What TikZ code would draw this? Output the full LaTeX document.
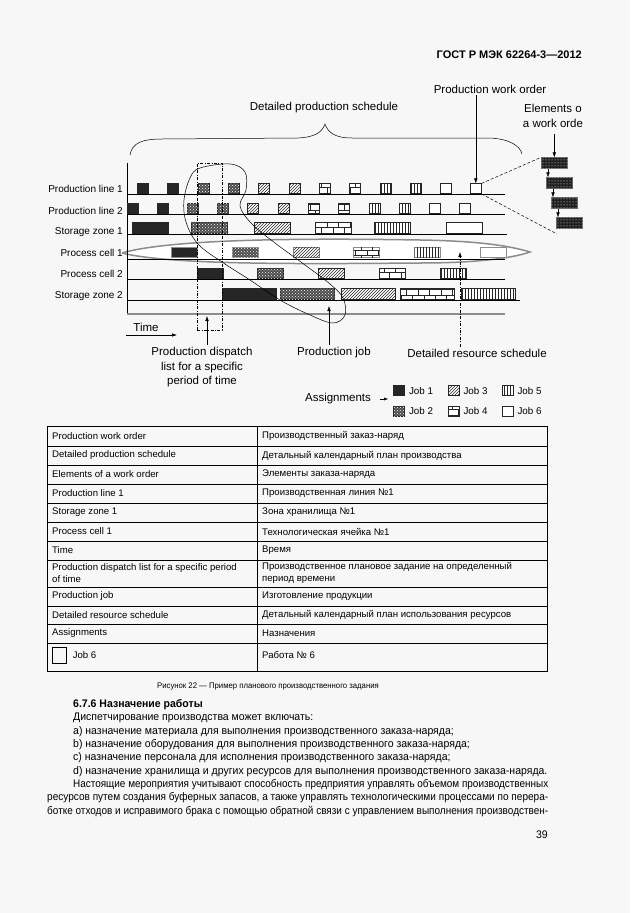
\documentclass[tikz,border=0pt]{standalone}
\usepackage{graphicx}
\usepackage{fontspec}
\setmainfont{Liberation Sans}
\newfontfamily\narrowfont[FakeStretch=0.955]{Liberation Sans}
\usetikzlibrary{arrows.meta,patterns,positioning,calc}

\tikzset{
  bar/.style={draw=black!85, line width=0.6pt, inner sep=0pt, anchor=south west, minimum height=10pt},
  job1/.style={fill=black!85},
  job2/.style={fill=black!70, postaction={pattern=crosshatch dots, pattern color=white}},
  job3/.style={fill=white, postaction={pattern=north east lines, pattern color=black!85}},
  job4/.style={fill=white, postaction={pattern=bricks, pattern color=black!85}},
  job5/.style={fill=white, postaction={pattern=vertical lines, pattern color=black!85}},
  job6/.style={fill=white},
  elem/.style={draw=black!60, line width=0.6pt, inner sep=0pt, anchor=south west,
    minimum width=26pt, minimum height=11pt, fill=black!88, postaction={pattern=dots, pattern color=white}},
  cell/.style={draw=black!45, line width=1.3pt},
  lbl/.style={font=\fontsize{10}{12}\selectfont, anchor=east, inner sep=0pt},
  note/.style={font=\fontsize{11.5}{14.5}\selectfont, align=center, inner sep=0pt},
  leg/.style={font=\fontsize{9.8}{12}\selectfont, inner sep=0pt},
  tbl/.style={font=\fontsize{9.6}{11.5}\selectfont, anchor=west, inner sep=0pt},
  body/.style={font=\narrowfont\fontsize{11}{13}\selectfont, anchor=west, inner sep=0pt},
  tip/.style={-{Latex[length=5pt,width=3.5pt]}},
  dashdot/.style={dash pattern=on 3pt off 1.5pt on 0.8pt off 1.5pt}
}
\newcommand\jline[2]{\resizebox{#1}{\height}{#2}}

\begin{document}
\begin{tikzpicture}[x=1pt,y=-1pt]
  \fill[black!3] (0,0) rectangle (630,913);
  \useasboundingbox (0,0) rectangle (630,913);

  \node[font=\bfseries\fontsize{11}{13}\selectfont, anchor=east, inner sep=0pt] (hdr) at (582,55) {ГОСТ Р МЭК 62264-3—2012};

  % process cell 1 lens
  \draw[black!45, line width=1.5pt, fill=white]
    (122,253) .. controls (170,239) and (300,238) .. (420,240)
    .. controls (480,241) and (510,246) .. (530,252)
    .. controls (510,259) and (470,263) .. (420,263)
    .. controls (300,264) and (170,265) .. (122,253);

  % axis and rows
  \draw[line width=0.6pt] (127,163) -- (127,315);
  \foreach \yy/\xe in {194/505,214/505,234/507,259/505,279/505,300/520}
    \draw[line width=0.7pt] (127,\yy) -- (\xe,\yy);
  \draw[black!45, line width=1.4pt] (127,314) -- (505,314);

  \foreach \yy/\t [count=\i] in {189/Production line 1,211/Production line 2,232/Storage zone 1,
    253/Process cell 1,274/Process cell 2,296/Storage zone 2}
    \node[lbl] (row-\i) at (123,\yy) {\t};

  \foreach \x/\j [count=\i] in {137/1,167/1,198/2,228/2,258/3,289/3,319/4,349/4,380/5,410/5,440/6,470/6}
    \node[bar, job\j, minimum width=11pt] (pa-\i) at (\x,194) {};
  \foreach \x/\j [count=\i] in {127/1,157/1,187/2,217/2,247/3,278/3,308/4,338/4,369/5,399/5,429/6,459/6}
    \node[bar, job\j, minimum width=11pt] (pb-\i) at (\x,214) {};
  \foreach \x/\j [count=\i] in {132/1,191/2,254/3,315/4,374/5,446/6}
    \node[bar, job\j, minimum width=36pt, minimum height=11pt] (sa-\i) at (\x,234) {};
  \foreach \x/\j [count=\i] in {171/1,232/2,293/3,353/4,414/5,480/6}
    \node[bar, job\j, cell, minimum width=26pt] (ca-\i) at (\x,258) {};
  \foreach \x/\j [count=\i] in {197/1,257/2,318/3,379/4,440/5}
    \node[bar, job\j, minimum width=26pt] (cb-\i) at (\x,279) {};
  \foreach \x/\j [count=\i] in {222/1,280/2,341/3,400/4,461/5}
    \node[bar, job\j, minimum width=54pt, minimum height=11pt] (sb-\i) at (\x,300) {};

  % production job outline
  \draw[line width=0.5pt] plot[smooth cycle, tension=0.6] coordinates {
    (200,168) (230,164) (245,172) (246,190) (240,206) (252,224) (275,243) (305,265)
    (330,284) (343,298) (345,315) (333,323) (310,315) (280,300) (250,280) (222,262)
    (198,244) (186,222) (184,200) (190,178)};

  % dispatch window
  \node[draw, dashdot, line width=0.6pt, minimum width=25pt, minimum height=167pt, inner sep=0pt] (dsp) at (209.5,246.5) {};

  % brace
  \draw[line width=0.5pt] (130,155) .. controls (132,143) and (142,139) .. (162,139) -- (298,138)
    .. controls (316,137) and (322,132) .. (325,124) .. controls (328,132) and (334,138) .. (352,138)
    -- (490,138) .. controls (510,139) and (520,146) .. (522,154);
  \node[note] (dps) at (324,108) {Detailed production schedule};

  \node[note] (pwo) at (490,89) {Production work order};
  \draw[tip, shorten <=2pt] (pwo.south -| pa-12.north) -- (pa-12.north);

  % elements of a work order
  \node[note] (eow) at (553,116) {Elements o\\a work orde};
  \foreach \x/\yy [count=\i] in {541/169,546/189,551/209,556/229}
    \node[elem] (el-\i) at (\x,\yy) {};
  \draw[tip, shorten <=6pt] (eow.south -| el-1.north) -- (el-1.north);
  \foreach \i/\k in {1/2,2/3,3/4}{
    \coordinate (ea-\k) at ([xshift=2pt]el-\k.north west);
    \draw[tip] (ea-\k |- el-\i.south) -- (ea-\k);
  }
  \coordinate (zb) at (557,234);
  \draw[densely dashed, line width=0.5pt] (pa-12.north east) -- (el-1.north west);
  \draw[densely dashed, line width=0.5pt] (pa-12.south east) -- (zb);

  % time
  \node[note] (tim) at (146,327) {Time};
  \coordinate (t0) at (126,335);
  \coordinate (t1) at (177,335);
  \draw[tip, line width=0.6pt] (t0) -- (t1);

  % bottom notes
  \node[note] (pdl) at (202,367.5) {Production dispatch\\list for a specific\\period of time};
  \coordinate (dsp-t) at (207,316);
  \draw[tip, shorten <=2pt] (pdl.north -| dsp-t) -- (dsp-t);

  \node[note] (pjb) at (334,353) {Production job};
  \coordinate (pjb-t) at (329,306);
  \draw[tip, shorten <=2pt] (pjb.north -| pjb-t) -- (pjb-t);

  \node[note] (drs) at (477,353) {Detailed resource schedule};
  \coordinate (drs-t) at (460,252);
  \draw[tip, dashdot, shorten <=2pt] (drs.north -| drs-t) -- (drs-t);

  % legend
  \node[note] (asg) at (338,399) {Assignments};
  \draw[-{Latex[length=4pt,width=3pt]}] ([xshift=9pt]asg.east) -- ([xshift=17pt]asg.east);
  \foreach \x/\yy/\j in {399/390.5/1,399/411/2,453.5/390.5/3,453.5/411/4,507.5/390.5/5,507.5/411/6}{
    \node[bar, job\j, anchor=center, minimum width=11pt] (lg-\j) at (\x,\yy) {};
    \node[leg, right=4pt of lg-\j] (lgt-\j) {Job \j};
  }

  % table
  \draw[line width=0.7pt] (47,426) rectangle (547,671);
  \draw[line width=0.6pt] (257,426) -- (257,671);
  \foreach \yy in {446,465,484,503,522,541,560,587,606,624,643}
    \draw[line width=0.6pt] (47,\yy) -- (547,\yy);
  \foreach \yy/\en/\ru [count=\i] in {436/Production work order/Производственный заказ-наряд,
    455.5/Detailed production schedule/Детальный календарный план производства,
    474.5/Elements of a work order/Элементы заказа-наряда,
    493.5/Production line 1/Производственная линия №1,
    512.5/Storage zone 1/Зона хранилища №1,
    531.5/Process cell 1/Технологическая ячейка №1,
    550.5/Time/Время,
    596.5/Production job/Изготовление продукции,
    615/Detailed resource schedule/Детальный календарный план использования ресурсов,
    633.5/Assignments/Назначения}{
    \node[tbl] (en-\i) at (52,\yy) {\en};
    \node[tbl] (ru-\i) at (262,\yy) {\ru};
  }
  \node[tbl, align=left] (en-d) at (52,573) {Production dispatch list for a specific period\\of time};
  \node[tbl, align=left] (ru-d) at (262,573) {Производственное плановое задание на определенный\\период времени};
  \node[draw, line width=0.6pt, minimum width=14pt, minimum height=16pt, inner sep=0pt, anchor=north west] (tb6) at (52,647) {};
  \node[tbl, right=6pt of tb6] (en-6) {Job 6};
  \node[tbl] (ru-6) at (262,655) {Работа № 6};

  \node[font=\narrowfont\fontsize{8.1}{10}\selectfont, inner sep=0pt] (cap) at (268,687) {Рисунок 22 — Пример планового производственного задания};

  % text
  \node[body, font=\narrowfont\bfseries\fontsize{11}{13}\selectfont] (h676) at (73,705) {6.7.6 Назначение работы};
  \node[body] (p0) at (73,718) {Диспетчирование производства может включать:};
  \node[body] (pa) at (73,731.5) {a) назначение материала для выполнения производственного заказа-наряда;};
  \node[body] (pb) at (73,745) {b) назначение оборудования для выполнения производственного заказа-наряда;};
  \node[body] (pc) at (73,758) {c) назначение персонала для исполнения производственного заказа-наряда;};
  \node[body] (pd) at (73,771.5) {d) назначение хранилища и других ресурсов для выполнения производственного заказа-наряда.};
  \node[body] (q1) at (73,785) {\jline{475pt}{Настоящие мероприятия учитывают способность предприятия управлять объемом производственных}};
  \node[body] (q2) at (47,798) {\jline{501pt}{ресурсов путем создания буферных запасов, а также управлять технологическими процессами по перера-}};
  \node[body] (q3) at (47,811.5) {\jline{501pt}{ботке отходов и исправимого брака с помощью обратной связи с управлением выполнения производствен-}};
  \node[body, anchor=east] (pgn) at (548,835) {39};
\end{tikzpicture}
\end{document}
